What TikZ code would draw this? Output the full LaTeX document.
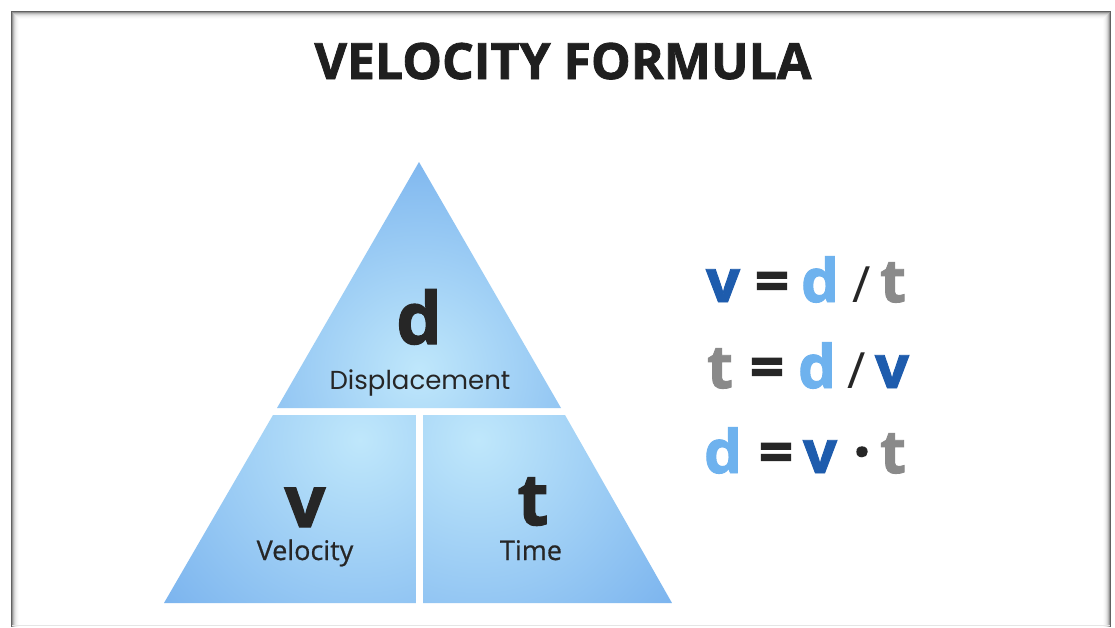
\documentclass[tikz,border=0pt]{standalone}
\usepackage{fontspec}
\setmainfont{Open Sans}
\newfontfamily\geofont{Poppins}
\newfontfamily\xbold{Open Sans}[BoldFeatures={FakeBold=1.6}]
\newfontfamily\semib{Open Sans}[UprightFeatures={FakeBold=0.6}]
\begin{document}
\begin{tikzpicture}[x=1pt,y=-1pt,
  big/.style={font=\xbold\fontsize{72}{72}\selectfont\bfseries, text=black!85, inner sep=0pt, anchor=base},
  lbl/.style={font=\semib\fontsize{27}{27}\selectfont, text=black!85, inner sep=0pt, anchor=base},
  eq/.style={font=\xbold\fontsize{60}{60}\selectfont\bfseries, inner sep=0pt, anchor=base}]
\definecolor{blueL}{HTML}{BFE7FB}
\definecolor{blueD}{HTML}{7AB3EE}
\definecolor{vcol}{HTML}{1E5CAD}
\definecolor{dcol}{HTML}{6EB2EE}
\definecolor{tcol}{HTML}{8A8A8A}
\definecolor{opcol}{HTML}{262626}
\useasboundingbox (0,0) rectangle (1115,627);
\fill[white] (0,0) rectangle (1115,627);
% frame with soft inner shadow
\foreach \i/\c in {0/62,1/42,2/27,3/17,4/10,5/6,6/3,7/1} {
  \draw[black!\c, line width=1pt] (11.5+\i,627) -- (11.5+\i,11.5+\i) -- (1110.5-\i,11.5+\i) -- (1110.5-\i,627);
}
\draw[black!10, line width=1pt] (12,625.5) -- (1110,625.5);
% triangle parts
\begin{scope}
  \clip (419,162) -- (561,408) -- (277,408) -- cycle;
  \shade[inner color=blueL, outer color=blueD] (419,370) circle (230);
\end{scope}
\begin{scope}
  \clip (273,415) -- (416,415) -- (416,603) -- (164,603) -- cycle;
  \shade[inner color=blueL, outer color=blueD] (360,440) circle (260);
\end{scope}
\begin{scope}
  \clip (423,415) -- (565,415) -- (672,603) -- (423,603) -- cycle;
  \shade[inner color=blueL, outer color=blueD] (478,440) circle (260);
\end{scope}
% labels
\node[font=\xbold\fontsize{50}{50}\selectfont\bfseries, text=black!88, anchor=base, inner sep=0pt] (title) at (563,79) {VELOCITY FORMULA};
\node[big] (d) at (419,344) {d};
\node[lbl, font=\geofont\fontsize{26}{26}\selectfont] (dl) at (420,389) {Displacement};
\node[big] (v) at (305,527) {v};
\node[lbl] (vl) at (305,560) {Velocity};
\node[big] (t) at (533,525) {t};
\node[lbl] (tl) at (531,560) {Time};
% equations
\node[eq, text=vcol] (e1a) at (723,302) {v};
\node[eq, text=opcol] (e1b) at (772,302) {=};
\node[eq, text=dcol] (e1c) at (820,302) {d};
\node[eq, text=opcol, font=\fontsize{50}{50}\selectfont] (e1d) at (862,302) {/};
\node[eq, text=tcol] (e1e) at (893,302) {t};
\node[eq, text=tcol] (e2a) at (720,388) {t};
\node[eq, text=opcol] (e2b) at (767,388) {=};
\node[eq, text=dcol] (e2c) at (817,388) {d};
\node[eq, text=opcol, font=\fontsize{50}{50}\selectfont] (e2d) at (857,388) {/};
\node[eq, text=vcol] (e2e) at (892,388) {v};
\node[eq, text=dcol] (e3a) at (723,473) {d};
\node[eq, text=opcol] (e3b) at (776,473) {=};
\node[eq, text=vcol] (e3c) at (820,473) {v};
\node[eq, text=opcol] (e3d) at (862,473) {\textperiodcentered};
\node[eq, text=tcol] (e3e) at (893,473) {t};
\end{tikzpicture}
\end{document}
